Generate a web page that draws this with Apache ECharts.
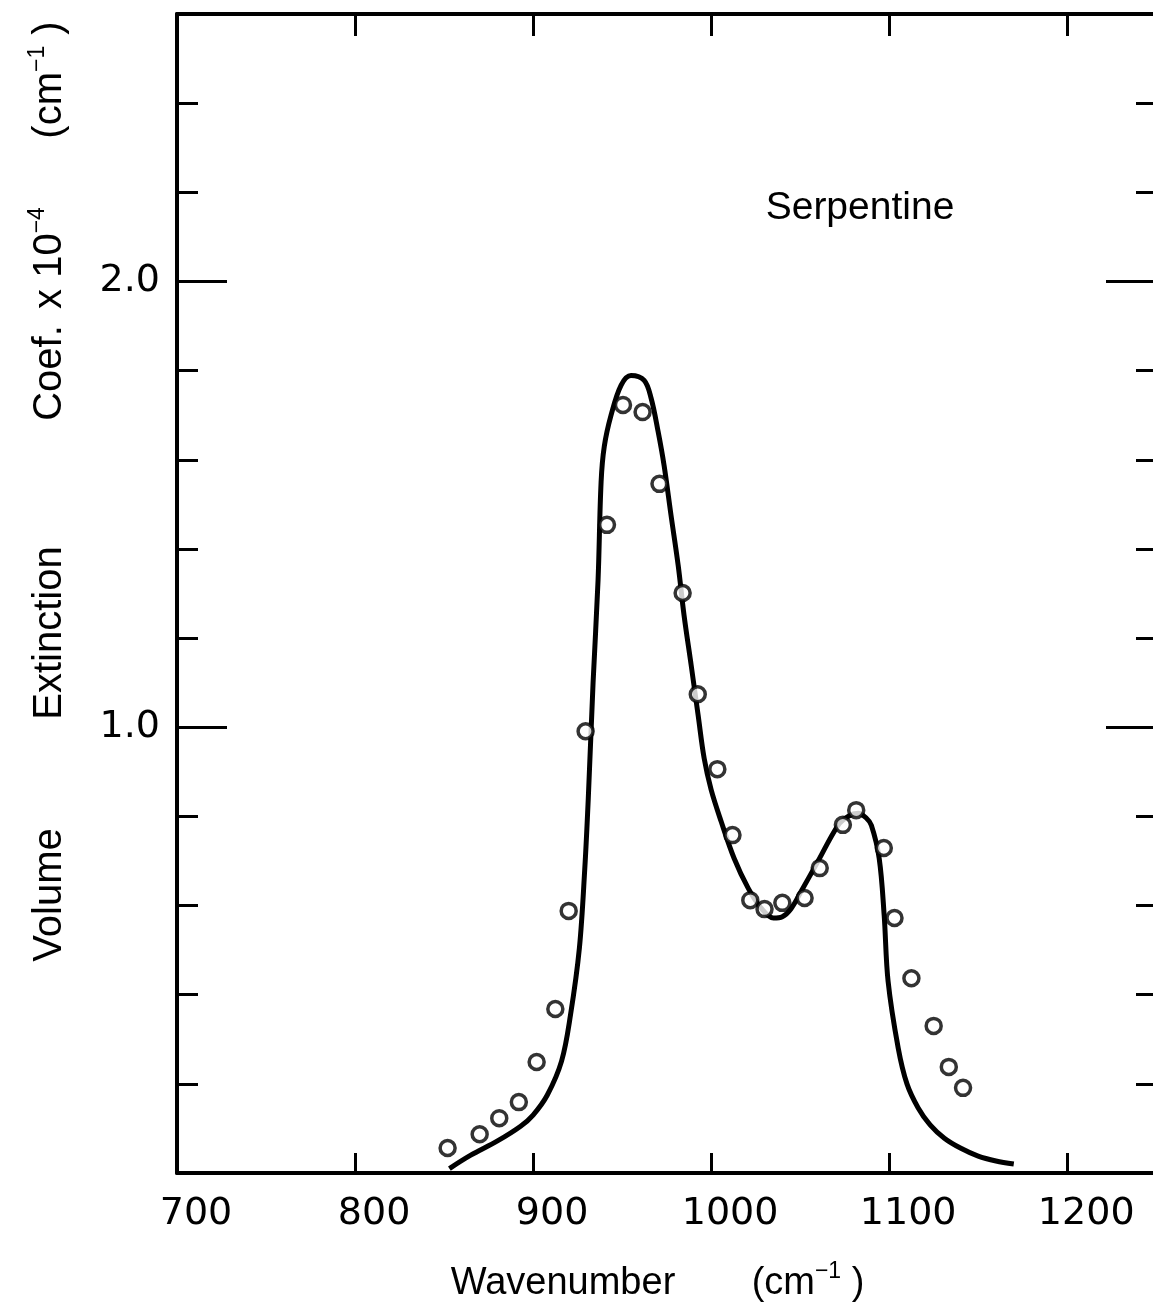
<!DOCTYPE html>
<html>
<head>
<meta charset="utf-8">
<script src="https://cdn.jsdelivr.net/npm/echarts@6/dist/echarts.min.js"></script>
<style>
html, body { margin: 0; padding: 0; background: #fff; }
#chart { width: 1153px; height: 1305px; }
</style>
</head>
<body>
<div id="chart"></div>
<script>
// fitted curve (wavenumber, cm-1) / volume extinction coef. x 10^-4
var curveX = [853, 865, 880, 893, 900, 908, 916, 921, 926, 929, 931, 933.7, 936.5, 938.2, 940, 943.8, 949.4, 955, 962.4, 966.3,
  970.2, 973.6, 977.5, 981.5, 984.8, 988.8, 992.7, 996.1, 1000, 1005.6, 1012.9, 1020.8, 1028.1, 1035, 1040, 1044.9,
  1050.6, 1060.1, 1071.3, 1077, 1082.6, 1087, 1090, 1094.4, 1097.2, 1099.4, 1105.1, 1110, 1116.3, 1123, 1131, 1140,
  1150, 1160, 1170];
var curveY = [0.01, 0.04, 0.072, 0.105, 0.13, 0.175, 0.251, 0.354, 0.504, 0.68, 0.84, 1.10, 1.33, 1.55, 1.63, 1.70, 1.767, 1.789, 1.778, 1.738,
  1.664, 1.587, 1.475, 1.363, 1.251, 1.139, 1.027, 0.93, 0.86, 0.789, 0.706, 0.639, 0.594, 0.572, 0.575, 0.593,
  0.632, 0.70, 0.78, 0.80, 0.807, 0.797, 0.78, 0.706, 0.578, 0.43, 0.28, 0.20, 0.146, 0.108, 0.078, 0.056,
  0.038, 0.027, 0.02];

// measured points
var pointX = [852, 870, 881, 892, 902, 912.5, 920, 929.5, 941.5, 950.5, 961.5, 971, 984, 992.5, 1003.5, 1012, 1022, 1030, 1040,
  1052.5, 1061, 1074, 1081.5, 1097, 1103, 1112.5, 1125, 1133.5, 1141.5];
var pointY = [0.056, 0.087, 0.123, 0.159, 0.249, 0.368, 0.588, 0.991, 1.454, 1.723, 1.707, 1.546, 1.301, 1.074, 0.906, 0.758, 0.612,
  0.592, 0.606, 0.617, 0.684, 0.781, 0.814, 0.729, 0.572, 0.437, 0.330, 0.238, 0.191];

var xTickLabels = [700, 800, 900, 1000, 1100, 1200];
var yTickLabels = [1, 2];

var chart = echarts.init(document.getElementById('chart'));

var labelFont = 'DejaVu Sans';
var titleFont = 'Liberation Sans';

function curveData() {
  return curveX.map(function (x, i) { return [x, curveY[i]]; });
}
function pointData() {
  return pointX.map(function (x, i) { return [x, pointY[i]]; });
}

function yAxisDef(pos, interval, tickLen, showLine, showLabel) {
  return {
    type: 'value',
    position: pos,
    min: 0,
    max: 2.6,
    interval: interval,
    splitLine: { show: false },
    axisLine: { show: showLine, lineStyle: { color: '#000', width: 4 } },
    axisTick: { show: true, inside: true, length: tickLen, lineStyle: { color: '#000', width: 3 } },
    axisLabel: {
      show: showLabel,
      margin: 17,
      color: '#000',
      fontFamily: labelFont,
      fontSize: 38,
      formatter: function (v) {
        return yTickLabels.indexOf(Math.round(v * 10) / 10) >= 0 ? v.toFixed(1) : '';
      }
    }
  };
}

function textEl(txt, x, y, rot, size) {
  return {
    type: 'text',
    x: x,
    y: y,
    rotation: rot,
    style: {
      text: txt,
      fontFamily: titleFont,
      fontSize: size,
      fill: '#000',
      align: 'center',
      verticalAlign: 'middle',
      textAlign: 'center',
      textVerticalAlign: 'middle',
      rich: {
        s: { fontFamily: titleFont, fontSize: 23, verticalAlign: 'top', lineHeight: 48 }
      }
    }
  };
}

var option = {
  backgroundColor: '#fff',
  animation: false,
  grid: { left: 177, top: 14, width: 981, height: 1159, containLabel: false, outerBoundsMode: 'none' },
  xAxis: [
    {
      type: 'value',
      position: 'bottom',
      min: 700,
      max: 1251,
      interval: 100,
      splitLine: { show: false },
      axisLine: { onZero: false, lineStyle: { color: '#000', width: 4 } },
      axisTick: { inside: true, length: 20, lineStyle: { color: '#000', width: 3 } },
      axisLabel: {
        margin: 22,
        color: '#000',
        fontFamily: labelFont,
        fontSize: 38,
        padding: [0, 0, 0, 38],
        formatter: function (v) {
          return xTickLabels.indexOf(Math.round(v)) >= 0 ? String(Math.round(v)) : '';
        }
      }
    },
    {
      type: 'value',
      position: 'top',
      min: 700,
      max: 1251,
      interval: 100,
      splitLine: { show: false },
      axisLine: { onZero: false, lineStyle: { color: '#000', width: 4 } },
      axisTick: { inside: true, length: 22, lineStyle: { color: '#000', width: 3 } },
      axisLabel: { show: false }
    }
  ],
  yAxis: [
    yAxisDef('left', 1, 50, true, true),
    yAxisDef('left', 0.2, 21, false, false),
    yAxisDef('right', 1, 52, true, false),
    yAxisDef('right', 0.2, 22, false, false)
  ],
  series: [
    {
      type: 'line',
      xAxisIndex: 0,
      yAxisIndex: 0,
      data: curveData(),
      smooth: 0.35,
      showSymbol: false,
      lineStyle: { color: '#000', width: 5 },
      z: 2
    },
    {
      type: 'scatter',
      xAxisIndex: 0,
      yAxisIndex: 0,
      data: pointData(),
      symbol: 'circle',
      symbolSize: 15,
      itemStyle: { color: '#fff', borderColor: '#000', borderWidth: 3.5 },
      z: 3
    }
  ],
  graphic: [
    textEl('Serpentine', 860, 208, 0, 39),
    textEl('Wavenumber', 563, 1284, 0, 38),
    textEl('(cm{s|−1} )', 808, 1284, 0, 38),
    textEl('Volume', 50, 895, Math.PI / 2, 40),
    textEl('Extinction', 50, 633, Math.PI / 2, 40),
    textEl('Coef.', 50, 373, Math.PI / 2, 40),
    textEl('x 10{s|−4}', 50, 258, Math.PI / 2, 40),
    textEl('(cm{s|−1} )', 50, 80, Math.PI / 2, 40)
  ]
};

chart.setOption(option);
</script>
</body>
</html>
